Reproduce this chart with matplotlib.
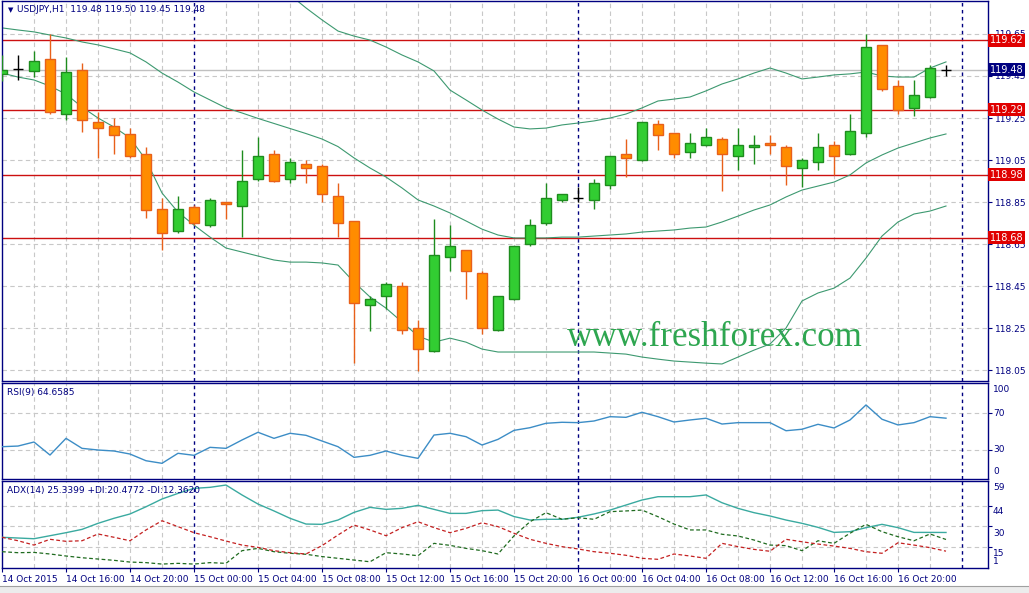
import numpy as np
import matplotlib
matplotlib.use('Agg')
import matplotlib.pyplot as plt
from matplotlib.patches import Rectangle
from matplotlib.transforms import blended_transform_factory

# USDJPY H1, 14 Oct 12:00 .. 16 Oct 23:00 (one value per hourly bar)
opens = [119.458, 119.483, 119.475, 119.529, 119.268, 119.477, 119.229, 119.210, 119.175, 119.077,
         118.818, 118.710, 118.828, 118.739, 118.849, 118.829, 118.958, 119.077, 118.958, 119.029,
         119.020, 118.877, 118.758, 118.358, 118.401, 118.448, 118.248, 118.139, 118.587, 118.620,
         118.510, 118.239, 118.387, 118.648, 118.748, 118.858, 118.870, 118.858, 118.929, 119.077,
         119.048, 119.220, 119.177, 119.087, 119.120, 119.148, 119.068, 119.110, 119.129, 119.110,
         119.010, 119.039, 119.120, 119.077, 119.177, 119.596, 119.401, 119.296, 119.348, 119.480]
highs = [119.550, 119.550, 119.569, 119.648, 119.541, 119.512, 119.277, 119.248, 119.201, 119.110,
         118.867, 118.879, 118.836, 118.867, 118.851, 119.098, 119.160, 119.096, 119.061, 119.048,
         119.029, 118.939, 118.760, 118.402, 118.467, 118.467, 118.287, 118.767, 118.739, 118.622,
         118.520, 118.403, 118.641, 118.767, 118.939, 118.889, 118.923, 118.958, 119.070, 119.150,
         119.231, 119.239, 119.179, 119.177, 119.201, 119.158, 119.201, 119.167, 119.167, 119.120,
         119.058, 119.177, 119.139, 119.268, 119.648, 119.598, 119.430, 119.430, 119.501, 119.500]
lows = [119.428, 119.431, 119.447, 119.268, 119.239, 119.185, 119.058, 119.077, 119.058, 118.775,
        118.620, 118.701, 118.740, 118.729, 118.767, 118.685, 118.949, 118.945, 118.939, 118.939,
        118.848, 118.685, 118.085, 118.237, 118.339, 118.220, 118.047, 118.136, 118.520, 118.387,
        118.220, 118.236, 118.385, 118.639, 118.739, 118.849, 118.850, 118.818, 118.910, 118.967,
        119.046, 119.096, 119.058, 119.058, 119.118, 118.901, 119.001, 119.029, 119.077, 118.929,
        118.920, 119.001, 118.977, 119.075, 119.158, 119.377, 119.268, 119.258, 119.345, 119.450]
closes = [119.479, 119.483, 119.520, 119.277, 119.467, 119.239, 119.201, 119.167, 119.068, 118.810,
          118.701, 118.818, 118.748, 118.858, 118.839, 118.948, 119.068, 118.949, 119.039, 119.010,
          118.887, 118.748, 118.367, 118.387, 118.458, 118.239, 118.148, 118.596, 118.639, 118.520,
          118.248, 118.401, 118.639, 118.739, 118.867, 118.887, 118.870, 118.939, 119.068, 119.058,
          119.229, 119.167, 119.077, 119.129, 119.158, 119.077, 119.120, 119.120, 119.120, 119.020,
          119.048, 119.110, 119.068, 119.187, 119.587, 119.387, 119.287, 119.358, 119.487, 119.480]

bb_upper = [120.05, 120.05, 120.04, 120.05, 120.06, 120.06, 120.05, 120.04, 120.03, 120.02,
            120.00, 119.99, 119.97, 119.95, 119.93, 119.91, 119.90, 119.88, 119.836, 119.774,
            119.717, 119.664, 119.640, 119.621, 119.588, 119.550, 119.517, 119.474, 119.383, 119.336,
            119.288, 119.245, 119.207, 119.198, 119.202, 119.217, 119.226, 119.236, 119.250, 119.269,
            119.298, 119.331, 119.340, 119.350, 119.379, 119.412, 119.436, 119.464, 119.488, 119.464,
            119.436, 119.445, 119.455, 119.460, 119.469, 119.450, 119.445, 119.445, 119.488, 119.517]
bb_mid = [119.679, 119.669, 119.660, 119.645, 119.631, 119.612, 119.598, 119.579, 119.560, 119.517,
          119.464, 119.421, 119.374, 119.336, 119.298, 119.274, 119.248, 119.224, 119.200, 119.176,
          119.150, 119.114, 119.060, 119.012, 118.969, 118.917, 118.860, 118.831, 118.798, 118.760,
          118.721, 118.693, 118.679, 118.679, 118.679, 118.683, 118.683, 118.688, 118.693, 118.698,
          118.707, 118.712, 118.717, 118.726, 118.731, 118.755, 118.783, 118.812, 118.836, 118.874,
          118.907, 118.926, 118.945, 118.979, 119.036, 119.074, 119.107, 119.131, 119.155, 119.174]
bb_lower = [119.464, 119.445, 119.431, 119.402, 119.364, 119.302, 119.250, 119.207, 119.155, 119.050,
            118.893, 118.802, 118.740, 118.683, 118.631, 118.612, 118.593, 118.574, 118.564, 118.564,
            118.560, 118.550, 118.469, 118.398, 118.345, 118.279, 118.212, 118.183, 118.202, 118.183,
            118.150, 118.136, 118.136, 118.136, 118.136, 118.136, 118.136, 118.136, 118.131, 118.126,
            118.112, 118.102, 118.093, 118.088, 118.083, 118.079, 118.112, 118.145, 118.174, 118.250,
            118.379, 118.417, 118.440, 118.488, 118.583, 118.688, 118.755, 118.793, 118.807, 118.831]

rsi = [33.6, 34.3, 38.7, 24.5, 42.7, 31.8, 30.0, 28.9, 25.6, 18.3,
       15.5, 26.4, 24.2, 32.9, 31.8, 40.9, 49.3, 42.7, 48.2, 46.0,
       39.8, 33.6, 22.0, 24.2, 28.9, 24.2, 20.9, 46.3, 48.2, 44.5,
       35.4, 41.6, 51.4, 54.3, 59.1, 60.2, 59.8, 61.6, 66.3, 65.6,
       71.1, 66.3, 60.5, 62.7, 64.6, 58.3, 59.8, 59.8, 59.8, 51.0,
       52.6, 58.0, 54.0, 62.7, 79.1, 63.5, 57.3, 59.8, 66.3, 64.66]
adx = [22.0, 21.5, 21.0, 23.1, 25.2, 27.5, 31.7, 35.2, 38.2, 43.2,
       48.6, 52.5, 56.0, 56.7, 58.3, 51.4, 45.1, 40.3, 35.2, 31.2,
       31.0, 34.0, 39.3, 42.8, 41.4, 42.1, 44.2, 41.4, 38.6, 38.6,
       40.5, 40.9, 36.4, 34.0, 34.5, 34.5, 35.9, 38.2, 40.9, 44.4,
       47.9, 50.2, 50.2, 50.2, 51.4, 46.0, 42.1, 39.1, 36.8, 34.0,
       31.7, 28.9, 25.4, 25.9, 28.7, 31.0, 28.7, 25.4, 25.4, 25.34]
plus_di = [12.0, 11.3, 11.5, 10.4, 9.0, 7.8, 6.9, 6.0, 4.8, 4.4,
           3.4, 3.9, 3.4, 4.4, 3.9, 12.7, 14.3, 12.0, 10.9, 10.2,
           8.6, 7.4, 6.2, 5.0, 11.3, 10.4, 9.2, 17.8, 16.4, 14.3,
           12.7, 10.4, 23.0, 32.8, 39.1, 34.5, 35.6, 34.5, 39.8, 40.3,
           40.9, 36.3, 31.2, 27.1, 27.1, 24.1, 22.9, 20.1, 16.6, 16.2,
           12.7, 19.6, 17.8, 24.8, 31.0, 25.9, 22.4, 19.6, 24.3, 20.48]
minus_di = [22.0, 19.6, 16.6, 20.6, 19.2, 19.6, 24.3, 22.0, 19.6, 27.1,
            33.5, 29.4, 25.2, 22.4, 19.4, 16.6, 15.0, 12.7, 11.3, 10.4,
            16.2, 23.6, 30.5, 27.1, 23.1, 28.7, 32.8, 28.7, 25.2, 28.2,
            32.1, 29.4, 24.8, 20.6, 17.8, 15.5, 13.9, 12.0, 10.9, 9.5,
            7.4, 6.7, 10.4, 9.0, 7.4, 17.8, 15.5, 13.6, 12.3, 20.6,
            18.9, 17.3, 15.9, 14.3, 12.0, 10.9, 18.2, 16.6, 14.8, 12.36]

levels = [119.62, 119.29, 118.98, 118.68]
bid = 119.48
price_ticks = [119.65, 119.45, 119.25, 119.05, 118.85, 118.65, 118.45, 118.25, 118.05]
time_labels = ['14 Oct 2015', '14 Oct 16:00', '14 Oct 20:00', '15 Oct 00:00', '15 Oct 04:00',
               '15 Oct 08:00', '15 Oct 12:00', '15 Oct 16:00', '15 Oct 20:00', '16 Oct 00:00',
               '16 Oct 04:00', '16 Oct 08:00', '16 Oct 12:00', '16 Oct 16:00', '16 Oct 20:00']

W, H = 1029, 593
NAVY = '#000080'
GRID = '#c8c8c8'
FS = 6.5
plt.rcParams['font.family'] = ['DejaVu Sans']

fig = plt.figure(figsize=(W / 100, H / 100), dpi=100)
fig.patch.set_facecolor('white')


def panel(x0, y0, x1, y1):
    ax = fig.add_axes([x0 / W, 1 - y1 / H, (x1 - x0) / W, (y1 - y0) / H])
    for s in ax.spines.values():
        s.set_color(NAVY)
        s.set_linewidth(1)
    ax.set_xlim(0, 61.625)
    ax.set_xticks([])
    ax.yaxis.tick_right()
    ax.tick_params(axis='y', length=3, width=0.8, color=NAVY, labelcolor=NAVY,
                   labelsize=FS, pad=2)
    for k in range(2, 62, 2):
        if (k - 12) % 24 == 0:
            ax.axvline(k, color=NAVY, lw=1, ls=(0, (2.5, 2.5)), zorder=0.6)
        else:
            ax.axvline(k, color=GRID, lw=0.8, ls=(0, (4, 3)), zorder=0.5)
    return ax


def label(x, y, s, **kw):
    kw.setdefault('fontsize', FS)
    kw.setdefault('color', NAVY)
    fig.text(x / W, 1 - y / H, s, va='center', **kw)


idx = np.arange(len(opens))
o = np.array(opens)
h = np.array(highs)
l = np.array(lows)
c = np.array(closes)

# ---- main price panel ----
ax = panel(2, 1, 988, 381)
ax.set_ylim(117.998, 119.807)
ax.set_yticks(price_ticks)
ax.set_yticklabels(['%.2f' % p for p in price_ticks])
for p in price_ticks:
    ax.axhline(p, color=GRID, lw=0.8, ls=(0, (4, 3)), zorder=0.5)
ax.axhline(bid, color='#c0c0c0', lw=1, zorder=0.7)
for lv in levels:
    ax.axhline(lv, color='#cc1010', lw=1, zorder=1)

bb_col = '#3d9970'
ax.plot(idx, bb_upper, color=bb_col, lw=0.8, zorder=2)
ax.plot(idx, bb_mid, color=bb_col, lw=0.8, zorder=2)
ax.plot(idx, bb_lower, color=bb_col, lw=0.8, zorder=2)

ax.text(0.573, 0.092, 'www.freshforex.com', transform=ax.transAxes, fontsize=25.2,
        family='Liberation Serif', color='#2ea650', va='baseline', ha='left', zorder=1.8)

up = c > o
dn = c < o
dj = c == o
bw = 0.625
ax.vlines(idx[up], l[up], h[up], color='#1e8c1e', lw=1, zorder=3)
ax.bar(idx[up], (c - o)[up], bottom=o[up], width=bw, color='#32cd32',
       edgecolor='#1e8c1e', lw=1, zorder=4)
ax.vlines(idx[dn], l[dn], h[dn], color='#e8601a', lw=1, zorder=3)
ax.bar(idx[dn], (o - c)[dn], bottom=c[dn], width=bw, color='#ff8c00',
       edgecolor='#e8601a', lw=1, zorder=4)
ax.vlines(idx[dj], l[dj], h[dj], color='black', lw=1, zorder=4)
ax.hlines(c[dj], idx[dj] - bw / 2, idx[dj] + bw / 2, color='black', lw=1, zorder=4)

tr = blended_transform_factory(ax.transAxes, ax.transData)
for lv in levels:
    ax.text(1.0015, lv, '%.2f' % lv, transform=tr, fontsize=7, color='white', va='center',
            ha='left', clip_on=False, zorder=6,
            bbox=dict(boxstyle='square,pad=0.18', fc='#e00000', ec='none'))
ax.text(1.0015, bid, '%.2f' % bid, transform=tr, fontsize=7, color='white', va='center',
        ha='left', clip_on=False, zorder=6,
        bbox=dict(boxstyle='square,pad=0.18', fc=NAVY, ec='none'))

label(8, 10, '\u25bc', fontsize=5)
label(17, 10, 'USDJPY,H1  %.2f %.2f %.2f %.2f' % (opens[-1], highs[-1], lows[-1], closes[-1]))

# ---- RSI panel ----
ax2 = panel(2, 383, 988, 479)
ax2.set_ylim(-1.6, 103)
ax2.set_yticks([70, 30])
ax2.set_yticklabels([])
for v in [70, 30]:
    ax2.axhline(v, color=GRID, lw=0.8, ls=(0, (4, 3)), zorder=0.5)
ax2.plot(idx, rsi, color='#3c8dc6', lw=1, zorder=3)
label(7, 393, 'RSI(9) %.4f' % 64.6585)
for s, y in [('100', 390), ('70', 413), ('30', 450), ('0', 472)]:
    label(993, y, s)

# ---- ADX panel ----
ax3 = panel(2, 481, 988, 568)
ax3.set_ylim(0.67, 61.1)
ax3.set_yticks([44, 30, 15])
ax3.set_yticklabels([])
for v in [44, 30, 15]:
    ax3.axhline(v, color=GRID, lw=0.8, ls=(0, (4, 3)), zorder=0.5)
ax3.plot(idx, adx, color='#3aaaa0', lw=1, zorder=3)
ax3.plot(idx, plus_di, color='#1f6b1f', lw=0.9, ls=(0, (3, 2)), zorder=3)
ax3.plot(idx, minus_di, color='#c42020', lw=0.9, ls=(0, (3, 2)), zorder=3)
label(7, 490, 'ADX(14) 25.3399 +DI:20.4772 -DI:12.3620')
for s, y in [('59', 488), ('44', 512), ('30', 534), ('15', 554), ('1', 562)]:
    label(993, y, s)

ax3.set_xticks(np.arange(0, 60, 4))
ax3.set_xticklabels(time_labels, ha='left')
ax3.tick_params(axis='x', length=3, width=0.8, color=NAVY, labelcolor=NAVY,
                labelsize=FS, pad=2)

# bottom scroll strip
fig.add_artist(Rectangle((0, 0), 1, 7 / H, transform=fig.transFigure,
                         fc='#ececec', ec='none'))
fig.add_artist(plt.Line2D([0, 1], [7 / H, 7 / H], transform=fig.transFigure,
                          color='#a0a0a0', lw=0.8))

fig.savefig('out.png', dpi=100)
